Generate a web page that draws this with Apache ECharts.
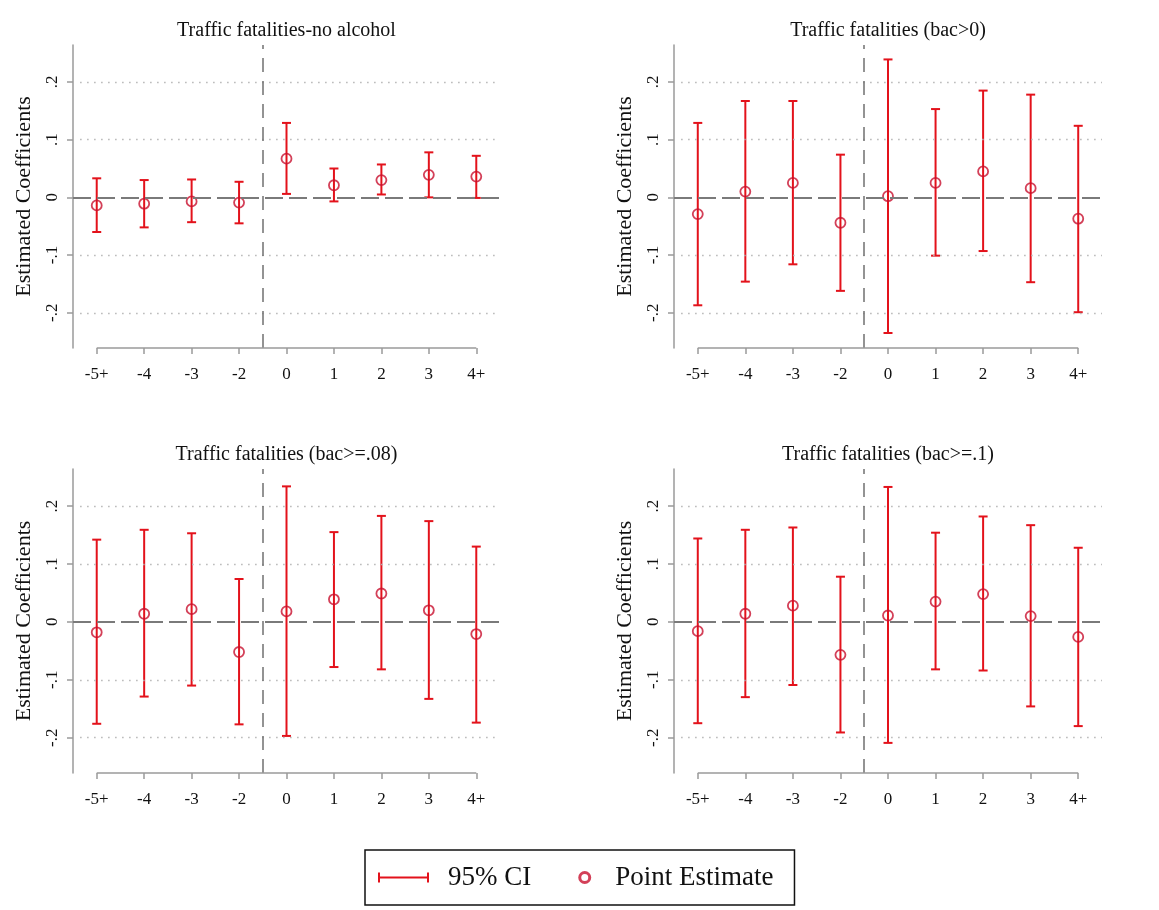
<!DOCTYPE html>
<html>
<head>
<meta charset="utf-8">
<script src="https://cdn.jsdelivr.net/npm/echarts@6.0.0/dist/echarts.min.js"></script>
<style>
  html, body { margin: 0; padding: 0; background: #fff; }
  #chart { width: 1159px; height: 910px; }
</style>
</head>
<body>
<div id="chart"></div>
<script>
// event time categories
var xLabels = ['-5+', '-4', '-3', '-2', '0', '1', '2', '3', '4+'];
var yTickValues = [-0.2, -0.1, 0, 0.1, 0.2];
var yTickLabels = ['-.2', '-.1', '0', '.1', '.2'];
var panelTitles = [
    'Traffic fatalities-no alcohol',
    'Traffic fatalities (bac>0)',
    'Traffic fatalities (bac>=.08)',
    'Traffic fatalities (bac>=.1)'
];

// panel 1: no alcohol
var est1 = [-0.014, -0.011, -0.007, -0.009, 0.067, 0.021, 0.030, 0.039, 0.036];
var lo1 = [-0.060, -0.052, -0.043, -0.045, 0.006, -0.007, 0.005, 0.000, -0.001];
var hi1 = [0.033, 0.030, 0.031, 0.027, 0.129, 0.050, 0.057, 0.078, 0.072];
// panel 2: bac>0
var est2 = [-0.029, 0.010, 0.025, -0.044, 0.002, 0.025, 0.045, 0.016, -0.037];
var lo2 = [-0.187, -0.146, -0.116, -0.162, -0.235, -0.101, -0.093, -0.147, -0.199];
var hi2 = [0.129, 0.167, 0.167, 0.074, 0.239, 0.153, 0.185, 0.178, 0.124];
// panel 3: bac>=.08
var est3 = [-0.018, 0.014, 0.022, -0.052, 0.018, 0.039, 0.049, 0.020, -0.021];
var lo3 = [-0.176, -0.129, -0.110, -0.177, -0.197, -0.078, -0.082, -0.133, -0.174];
var hi3 = [0.142, 0.159, 0.153, 0.074, 0.234, 0.155, 0.183, 0.174, 0.130];
// panel 4: bac>=.1
var est4 = [-0.016, 0.014, 0.028, -0.057, 0.011, 0.035, 0.048, 0.010, -0.026];
var lo4 = [-0.175, -0.130, -0.109, -0.191, -0.209, -0.082, -0.084, -0.146, -0.180];
var hi4 = [0.144, 0.159, 0.163, 0.078, 0.233, 0.154, 0.182, 0.167, 0.128];

var panels = [
    { est: est1, lo: lo1, hi: hi1 },
    { est: est2, lo: lo2, hi: hi2 },
    { est: est3, lo: lo3, hi: hi3 },
    { est: est4, lo: lo4, hi: hi4 }
];

var ciColor = '#e3121b';
var ptColor = '#c8102e';
var axisColor = '#9a9a9a';
var fontFam = '"Liberation Serif", "Times New Roman", serif';

var yMin = -0.261, yMax = 0.264;
var xMin = -0.5, xMax = 8.5;

var grids = [
    { left: 73, top: 45, width: 427, height: 303 },
    { left: 674, top: 45, width: 428, height: 303 },
    { left: 73, top: 469, width: 427, height: 304 },
    { left: 674, top: 469, width: 428, height: 304 }
];

function renderCI(params, api) {
    var x = api.value(0);
    var top = api.coord([x, api.value(2)]);
    var bot = api.coord([x, api.value(1)]);
    var w = 4.5;
    var st = { stroke: ciColor, lineWidth: 2 };
    return {
        type: 'group',
        children: [
            { type: 'line', shape: { x1: top[0], y1: top[1], x2: bot[0], y2: bot[1] }, style: st },
            { type: 'line', shape: { x1: top[0] - w, y1: top[1], x2: top[0] + w, y2: top[1] }, style: st },
            { type: 'line', shape: { x1: bot[0] - w, y1: bot[1], x2: bot[0] + w, y2: bot[1] }, style: st }
        ]
    };
}

var option = {
    animation: false,
    backgroundColor: '#fff',
    title: [],
    grid: grids,
    xAxis: [],
    yAxis: [],
    series: [],
    legend: {
        left: 365,
        top: 850,
        orient: 'horizontal',
        itemWidth: 51,
        itemHeight: 10,
        itemGap: 47,
        padding: [14, 21, 14, 13],
        borderColor: '#111',
        borderWidth: 1.5,
        selectedMode: false,
        textStyle: { fontFamily: fontFam, fontSize: 27, color: '#111' },
        data: [{
            name: '95% CI',
            icon: 'path://M0,0h2v10h-2zM0,4h51v2h-51zM49,0h2v10h-2z',
            itemStyle: { color: ciColor, borderWidth: 0 },
            textStyle: { padding: [0, 0, 0, 14] }
        }, {
            name: 'Point Estimate',
            icon: 'circle',
            itemStyle: { color: 'rgba(0,0,0,0)', borderColor: ptColor, borderWidth: 3 }
        }]
    }
};

panels.forEach(function (p, i) {
    var g = grids[i];
    option.title.push({
        text: panelTitles[i],
        left: g.left + g.width / 2,
        top: g.top - 24,
        textAlign: 'center',
        padding: 0,
        textStyle: { fontFamily: fontFam, fontSize: 20, fontWeight: 'normal', color: '#111' }
    });
    option.xAxis.push({
        type: 'value',
        gridIndex: i,
        min: xMin,
        max: xMax,
        axisLine: { show: false, onZero: false },
        splitLine: { show: false },
        axisTick: {
            show: true, length: 6,
            customValues: [0, 1, 2, 3, 4, 5, 6, 7, 8],
            lineStyle: { color: axisColor, width: 1.5 }
        },
        axisLabel: {
            customValues: [0, 1, 2, 3, 4, 5, 6, 7, 8],
            margin: 18,
            fontFamily: fontFam, fontSize: 17, color: '#111',
            formatter: function (v) { return xLabels[Math.round(v)]; }
        }
    });
    option.yAxis.push({
        type: 'value',
        gridIndex: i,
        min: yMin,
        max: yMax,
        name: 'Estimated Coefficients',
        nameLocation: 'middle',
        nameGap: 38,
        nameRotate: 90,
        nameTextStyle: { fontFamily: fontFam, fontSize: 22, color: '#111' },
        // library axis line as a fallback (runs the full panel height)
        axisLine: { show: true, onZero: false, lineStyle: { color: axisColor, width: 1.5 } },
        splitLine: { show: false },
        axisTick: {
            show: true, length: 6,
            customValues: yTickValues,
            lineStyle: { color: axisColor, width: 1.5 }
        },
        axisLabel: {
            customValues: yTickValues,
            rotate: 90,
            margin: 12,
            fontFamily: fontFam, fontSize: 17, color: '#111',
            formatter: function (v) {
                var k = yTickValues.indexOf(v);
                return k >= 0 ? yTickLabels[k] : '';
            }
        }
    });

    // reference lines: dotted grid, zero line, treatment line, x axis
    var gridLines = [];
    yTickValues.forEach(function (v) {
        if (v !== 0) {
            gridLines.push([
                { coord: [-0.35, v], lineStyle: { color: '#b5b5b5', width: 1.3, type: [1.5, 5.5] } },
                { coord: [xMax, v] }
            ]);
        }
    });
    gridLines.push([
        { coord: [xMin, 0], lineStyle: { color: '#7a7a7a', width: 1.8, type: [18, 6] } },
        { coord: [xMax, 0] }
    ]);
    gridLines.push([
        { coord: [3.5, yMin], lineStyle: { color: '#707070', width: 1.5, type: [14, 9] } },
        { coord: [3.5, yMax] }
    ]);
    gridLines.push([
        { coord: [0, yMin], lineStyle: { color: axisColor, width: 1.5, type: 'solid' } },
        { coord: [8, yMin] }
    ]);

    option.series.push({
        type: 'line',
        xAxisIndex: i,
        yAxisIndex: i,
        data: [],
        silent: true,
        clip: false,
        z: 1,
        markLine: {
            silent: true,
            symbol: 'none',
            label: { show: false },
            animation: false,
            data: gridLines
        }
    });

    option.series.push({
        name: '95% CI',
        type: 'custom',
        xAxisIndex: i,
        yAxisIndex: i,
        z: 2,
        itemStyle: { color: ciColor },
        renderItem: renderCI,
        data: p.est.map(function (e, k) { return [k, p.lo[k], p.hi[k]]; })
    });

    option.series.push({
        name: 'Point Estimate',
        type: 'scatter',
        xAxisIndex: i,
        yAxisIndex: i,
        z: 3,
        symbol: 'circle',
        symbolSize: 10,
        itemStyle: { color: 'rgba(0,0,0,0)', borderColor: ptColor, borderWidth: 1.8 },
        data: p.est.map(function (e, k) { return [k, e]; })
    });
});

var myChart = echarts.init(document.getElementById('chart'));
myChart.setOption(option);
</script>
</body>
</html>
